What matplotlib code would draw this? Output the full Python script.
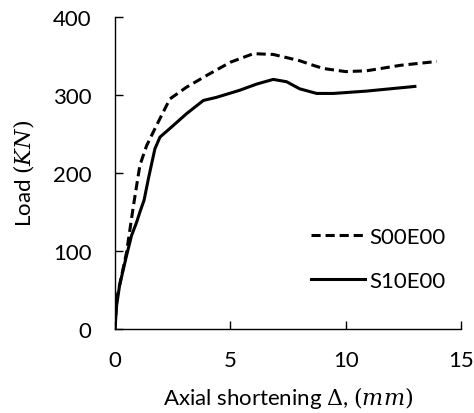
import numpy as np
import matplotlib.pyplot as plt

#------------------------------ Datos ------------------------------------------
# S00E00 (discontinua)
x_s00 = [0, 0.07, 0.5, 0.8, 1.08, 1.37, 1.8, 2.38, 3.1, 3.97, 5.0, 6.0, 6.86,
         8.0, 8.6, 9.03, 10.0, 10.9, 12.36, 13.95]
y_s00 = [0, 38, 98, 158, 210, 235, 261, 295, 310, 325, 342, 353, 352,
         344, 338, 334, 330, 331, 338, 343]

# S10E00 (continua)
x_s10 = [0, 0.07, 0.2, 0.5, 0.72, 0.94, 1.08, 1.26, 1.45, 1.73, 1.95, 2.53,
         3.1, 3.83, 4.4, 5.4, 6.14, 6.86, 7.44, 8.0, 8.74, 9.47, 10.9, 13.0]
y_s10 = [0, 30, 56, 94, 120, 137, 150, 165, 193, 231, 246, 261,
         276, 293, 297, 306, 314, 320, 317, 308, 302, 302, 305, 311]

labels = ["S00E00", "S10E00"]
xticks = [0, 5, 10, 15]
yticks = [0, 100, 200, 300, 400]
#-------------------------------------------------------------------------------

plt.rcParams['font.family'] = ['Lato', 'DejaVu Sans']
plt.rcParams['mathtext.fontset'] = 'dejavuserif'
fs = 16

fig = plt.figure(figsize=(4.74, 4.14), dpi=100)
ax = fig.add_axes([0.2426, 0.203, 0.7300, 0.7535])

ax.plot(x_s00, y_s00, c='black', lw=2.2, linestyle=(0, (3, 1.6)), label=labels[0])
ax.plot(x_s10, y_s10, c='black', lw=2.2, linestyle='-', label=labels[1])

ax.set_xlim(0, 15)
ax.set_ylim(0, 400)
ax.set_xticks(xticks)
ax.set_yticks(yticks)
ax.tick_params(direction='in', length=6, width=1, labelsize=fs)
ax.tick_params(axis='y', pad=17)
ax.tick_params(axis='x', pad=15)
for s in ['top', 'right']:
    ax.spines[s].set_visible(False)
for s in ['left', 'bottom']:
    ax.spines[s].set_linewidth(1)

ax.set_xlabel(r'Axial shortening $\Delta$, $(mm)$', fontsize=fs, labelpad=10)
ax.set_ylabel(r'Load $(KN)$', fontsize=fs, labelpad=12)

ax.legend(loc='center left', bbox_to_anchor=(0.51, 0.225), frameon=False,
          fontsize=fs, handlelength=2.4, handletextpad=0.2, labelspacing=1.1)

plt.savefig('out.png', dpi=100)
